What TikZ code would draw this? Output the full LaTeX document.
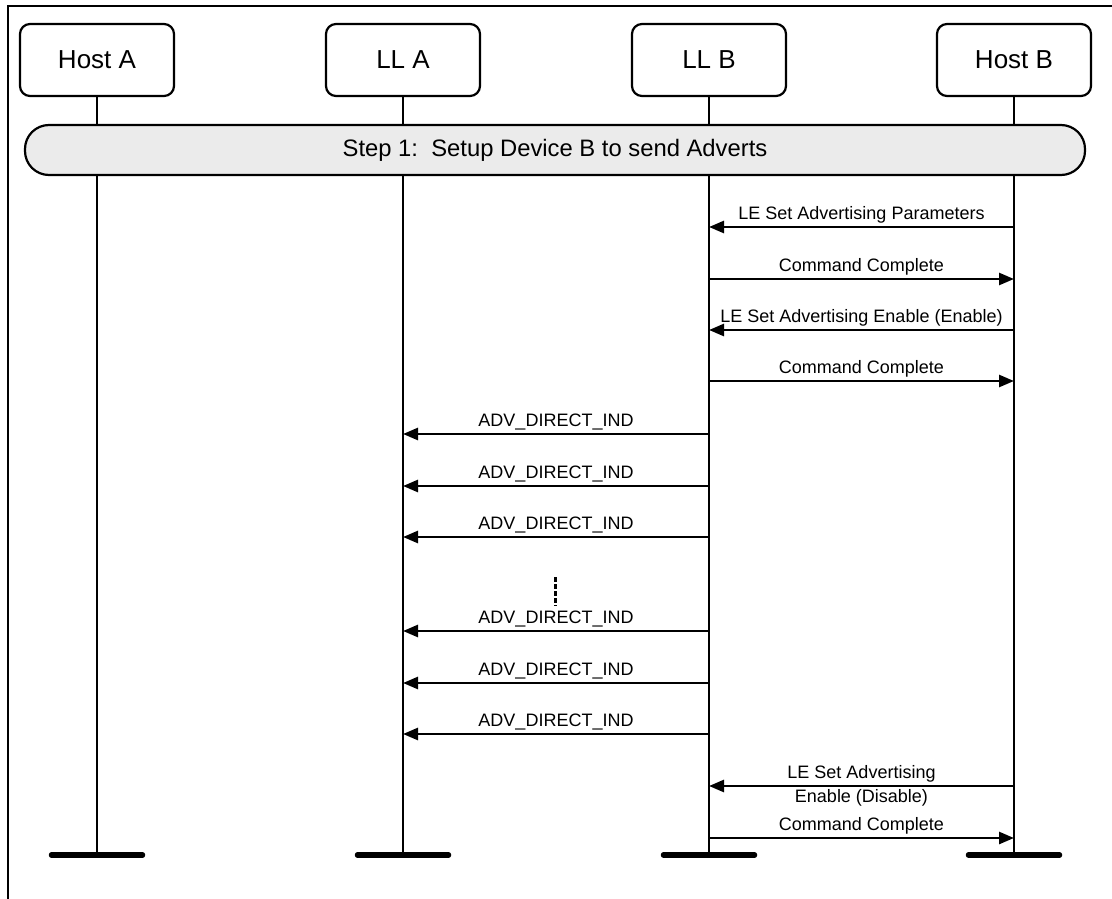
\documentclass[tikz,border=0pt]{standalone}
\usepackage{fontspec}
\setmainfont{Liberation Sans}
\usetikzlibrary{arrows.meta,calc}
\definecolor{stepfill}{RGB}{235,235,235}
\begin{document}
\begin{tikzpicture}[x=1pt,y=-1pt,
  actor/.style={draw,line width=2.2pt,rounded corners=10pt,minimum width=154pt,minimum height=72pt,inner sep=0pt,font=\fontsize{26}{30}\selectfont},
  stepbox/.style={draw,line width=2.2pt,rounded corners=24pt,fill=stepfill,minimum width=1060pt,minimum height=50pt,inner sep=0pt,font=\fontsize{23.8}{28}\selectfont},
  life/.style={line width=2.4pt},
  endbar/.style={line width=5.5pt,line cap=round},
  msg/.style={line width=2.6pt,-{Triangle[length=15pt,width=12pt]}},
  lbl/.style={font=\fontsize{18}{21}\selectfont,text height=13pt,text depth=4.5pt,inner sep=2pt},
  dots/.style={line width=3pt,dash pattern=on 5pt off 2pt}]
\useasboundingbox (0,0) rectangle (1112,899);
\draw[line width=2.4pt] (8,899) -- (8,6) -- (1112,6);
% actors
\node[actor] (ha) at (97,60) {Host A};
\node[actor] (la) at (403,60) {LL A};
\node[actor] (lb) at (709,60) {LL B};
\node[actor] (hb) at (1014,60) {Host B};
\node[stepbox] (s1) at (555,150) {Step 1:\ \ Setup Device B to send Adverts};
% lifelines
\foreach \n in {ha,la,lb,hb}{
  \coordinate (\n end) at (\n |- 0,855);
  \draw[life] (\n.south) -- (\n |- s1.north);
  \draw[life] (\n |- s1.south) -- (\n end);
  \draw[endbar] ($(\n end)+(-45.5,0)$) -- ($(\n end)+(45.5,0)$);
}
% messages
\foreach \y/\a/\b/\t in {
  227/hb/lb/LE Set Advertising Parameters,
  279/lb/hb/Command Complete,
  330/hb/lb/LE Set Advertising Enable (Enable),
  381/lb/hb/Command Complete,
  434/lb/la/ADV\_DIRECT\_IND,
  486/lb/la/ADV\_DIRECT\_IND,
  537/lb/la/ADV\_DIRECT\_IND,
  631/lb/la/ADV\_DIRECT\_IND,
  683/lb/la/ADV\_DIRECT\_IND,
  734/lb/la/ADV\_DIRECT\_IND,
  838/lb/hb/Command Complete}{
  \draw[msg] (\a |- 0,\y) -- node[lbl,above]{\t} (\b |- 0,\y);
}
\draw[msg] (hb |- 0,786) -- node[lbl,above]{LE Set Advertising} node[lbl,below]{Enable (Disable)} (lb |- 0,786);
% continuation
\coordinate (c1) at (555,577);
\coordinate (c2) at (555,606);
\draw[dots] (c1) -- (c2);
\end{tikzpicture}
\end{document}
